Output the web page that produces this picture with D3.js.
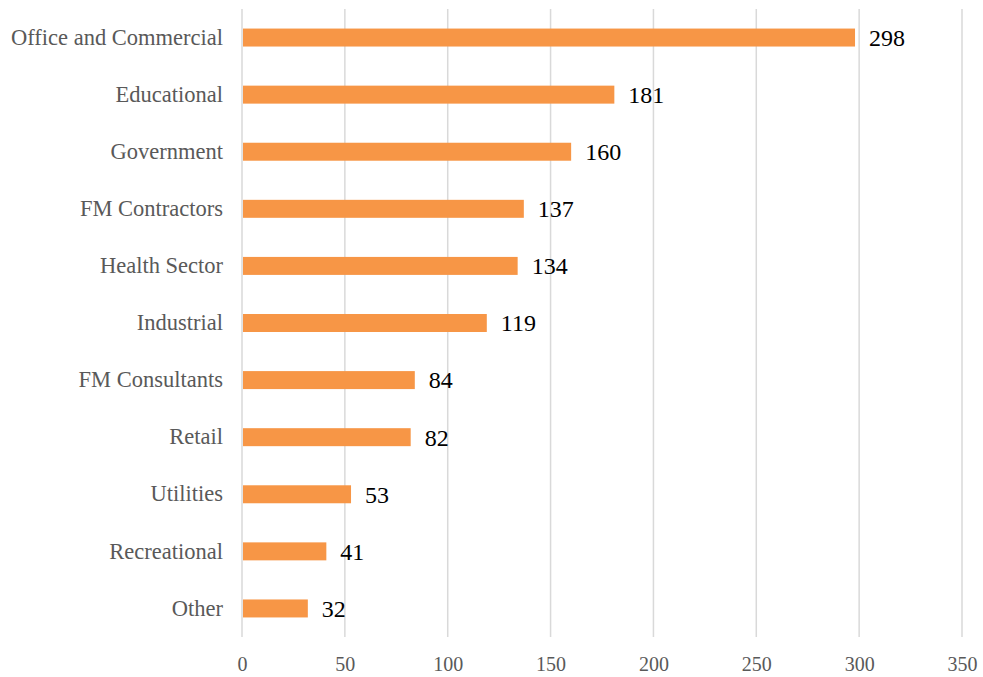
<!DOCTYPE html>
<html>
<head>
<meta charset="utf-8">
<script src="https://cdn.jsdelivr.net/npm/d3@7"></script>
<style>
  html, body { margin: 0; padding: 0; background: #fff; }
  svg { display: block; }
</style>
</head>
<body>
<svg id="chart" width="983" height="677"></svg>
<script>
const categories = ["Office and Commercial", "Educational", "Government", "FM Contractors", "Health Sector", "Industrial", "FM Consultants", "Retail", "Utilities", "Recreational", "Other"];
const counts = [298, 181, 160, 137, 134, 119, 84, 82, 53, 41, 32];
const xTicks = [0, 50, 100, 150, 200, 250, 300, 350];

const svg = d3.select("#chart");
const fontFamily = "'Liberation Serif', 'Times New Roman', serif";
const plot = { left: 242, right: 962, top: 9, bottom: 637 };

const x = d3.scaleLinear().domain([0, 350]).range([plot.left, plot.right]);
const y = d3.scaleBand().domain(categories).range([plot.top, plot.bottom]).paddingInner(0.685).paddingOuter(0.3425);

// vertical gridlines
svg.append("g")
  .selectAll("line")
  .data(xTicks)
  .join("line")
  .attr("x1", d => x(d)).attr("x2", d => x(d))
  .attr("y1", plot.top).attr("y2", plot.bottom)
  .attr("stroke", "#d9d9d9")
  .attr("stroke-width", 1.5);

// x axis tick labels
const xAxis = d3.axisBottom(x).tickValues(xTicks).tickSize(0).tickPadding(0);
const gx = svg.append("g").attr("transform", `translate(0,${plot.bottom + 20})`).call(xAxis);
gx.select(".domain").remove();
gx.selectAll("text")
  .attr("font-family", fontFamily)
  .attr("font-size", 20)
  .attr("fill", "#595959");

// category labels
const yAxis = d3.axisLeft(y).tickSize(0).tickPadding(0);
const gy = svg.append("g").attr("transform", `translate(${plot.left - 19},0)`).call(yAxis);
gy.select(".domain").remove();
gy.selectAll("text")
  .attr("font-family", fontFamily)
  .attr("font-size", 22.5)
  .attr("fill", "#595959");

const rows = categories.map((c, i) => ({ category: c, value: counts[i] }));

// bars
svg.append("g")
  .selectAll("rect")
  .data(rows)
  .join("rect")
  .attr("x", x(0) + 1)
  .attr("y", d => y(d.category))
  .attr("width", d => x(d.value) - x(0) - 1)
  .attr("height", y.bandwidth())
  .attr("fill", "#f79646");

// value labels
svg.append("g")
  .selectAll("text")
  .data(rows)
  .join("text")
  .attr("x", d => x(d.value) + 14)
  .attr("y", d => y(d.category) + y.bandwidth() / 2)
  .attr("dy", "0.35em")
  .attr("font-family", fontFamily)
  .attr("font-size", 24)
  .attr("fill", "#000")
  .text(d => d.value);
</script>
</body>
</html>
